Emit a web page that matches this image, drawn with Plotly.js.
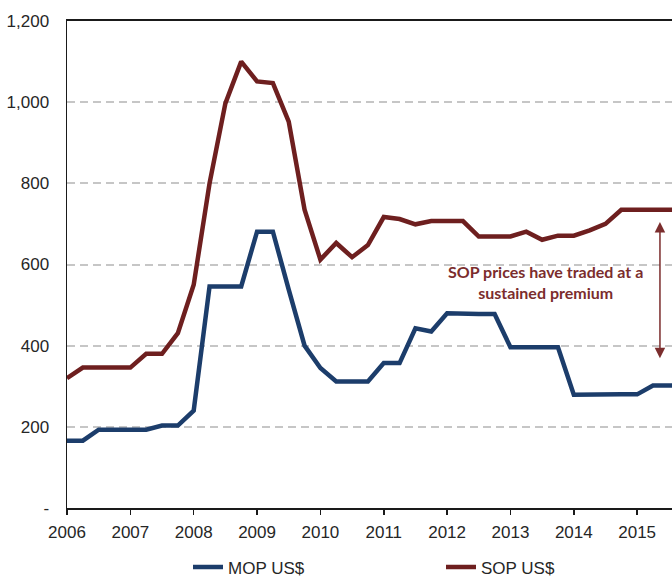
<!DOCTYPE html>
<html>
<head>
<meta charset="utf-8">
<script src="https://cdn.plot.ly/plotly-3.0.1.min.js"></script>
<style>
html,body{margin:0;padding:0;background:#fff;}
#chart{width:672px;height:577px;}
</style>
</head>
<body>
<div id="chart"></div>
<script>
// Quarterly observations (decimal years)
const quarters = [2006, 2006.25, 2006.5, 2006.75, 2007, 2007.25, 2007.5, 2007.75,
  2008, 2008.25, 2008.5, 2008.75, 2009, 2009.25, 2009.5, 2009.75,
  2010, 2010.25, 2010.5, 2010.75, 2011, 2011.25, 2011.5, 2011.75,
  2012, 2012.25, 2012.5, 2012.75, 2013, 2013.25, 2013.5, 2013.75,
  2014, 2014.25, 2014.5, 2014.75, 2015, 2015.25, 2015.5, 2015.75];

const mopUSD = [166, 166, 193, 193, 193, 193, 203, 203,
  240, 546, 546, 546, 681, 681, 538, 400,
  345, 312, 312, 312, 357, 357, 443, 435,
  480, 478, 478, 478, 396, 396, 396, 396,
  279, 280, 280, 280, 280, 302, 302, 302];

const sopUSD = [320, 346, 346, 346, 346, 380, 380, 431,
  550, 800, 997, 1100, 1051, 1047, 952, 735,
  612, 653, 618, 648, 717, 712, 699, 707,
  707, 707, 669, 669, 669, 681, 661, 671,
  671, 684, 700, 735, 735, 735, 735, 735];

const seriesNames = ['MOP US$', 'SOP US$'];
const yearTicks = [2006, 2007, 2008, 2009, 2010, 2011, 2012, 2013, 2014, 2015];
const yearLabels = ['2006', '2007', '2008', '2009', '2010', '2011', '2012', '2013', '2014', '2015'];
const yTickVals = [0, 200, 400, 600, 800, 1000, 1200];
const yTickText = ['-', '200', '400', '600', '800', '1,000', '1,200'];
const noteText = 'SOP prices have traded at a<br>sustained premium';
const premiumRange = {x: 2015.36, low: 365, high: 705};
const noteAnchor = {x: 2013.56, y: 557};

const MOP_COLOR = '#1C3D6B';
const SOP_COLOR = '#6E1F1F';
const NOTE_COLOR = '#7B2D2D';
const AXIS_COLOR = '#1a1a1a';
const TEXT_COLOR = '#262626';
const FONT = '"Liberation Sans", Arial, sans-serif';

const traces = [
  {x: quarters, y: mopUSD, name: seriesNames[0], type: 'scatter', mode: 'lines',
   line: {color: MOP_COLOR, width: 4.5}},
  {x: quarters, y: sopUSD, name: seriesNames[1], type: 'scatter', mode: 'lines',
   line: {color: SOP_COLOR, width: 4.5}}
];

const layout = {
  width: 672, height: 577,
  margin: {l: 67, r: 0, t: 21, b: 69, pad: 0, autoexpand: false},
  paper_bgcolor: '#ffffff', plot_bgcolor: '#ffffff',
  font: {family: FONT, size: 17, color: TEXT_COLOR},
  showlegend: true,
  legend: {orientation: 'h', x: 0.2, xanchor: 'left', y: -0.122, yanchor: 'middle',
    entrywidth: 208, entrywidthmode: 'pixels', font: {family: FONT, size: 17, color: TEXT_COLOR},
    bgcolor: 'rgba(0,0,0,0)', tracegroupgap: 0},
  xaxis: {
    range: [2006, 2015.55], tickmode: 'array', tickvals: yearTicks, ticktext: yearLabels,
    showgrid: false, zeroline: false, showline: true, mirror: true,
    linecolor: AXIS_COLOR, linewidth: 2, ticks: 'outside', ticklen: 5, tickwidth: 1.5,
    tickcolor: AXIS_COLOR, ticklabelstandoff: 3,
    tickfont: {family: FONT, size: 17, color: TEXT_COLOR}, fixedrange: true
  },
  yaxis: {
    range: [0, 1200], tickmode: 'array', tickvals: yTickVals, ticktext: yTickText,
    showgrid: true, gridcolor: '#c6c6c6', gridwidth: 2, griddash: '8px,5px',
    zeroline: false, showline: true, linecolor: AXIS_COLOR, linewidth: 1.5,
    ticks: '', ticklabelstandoff: 13,
    tickfont: {family: FONT, size: 17, color: TEXT_COLOR}, fixedrange: true
  },
  annotations: [
    {x: noteAnchor.x, y: noteAnchor.y, xref: 'x', yref: 'y', text: noteText,
     showarrow: false, align: 'center',
     font: {family: 'Lato, "Open Sans", sans-serif', size: 16, color: NOTE_COLOR, weight: 'bold'}},
    {x: premiumRange.x, y: premiumRange.high, ax: premiumRange.x, ay: premiumRange.low,
     xref: 'x', yref: 'y', axref: 'x', ayref: 'y', text: '', showarrow: true,
     arrowhead: 2, startarrowhead: 2, arrowside: 'end+start', arrowsize: 1.4,
     startarrowsize: 1.4, arrowwidth: 1.5, arrowcolor: NOTE_COLOR, standoff: 0, startstandoff: 0}
  ]
};

Plotly.newPlot('chart', traces, layout, {displayModeBar: false, staticPlot: true});
</script>
</body>
</html>
